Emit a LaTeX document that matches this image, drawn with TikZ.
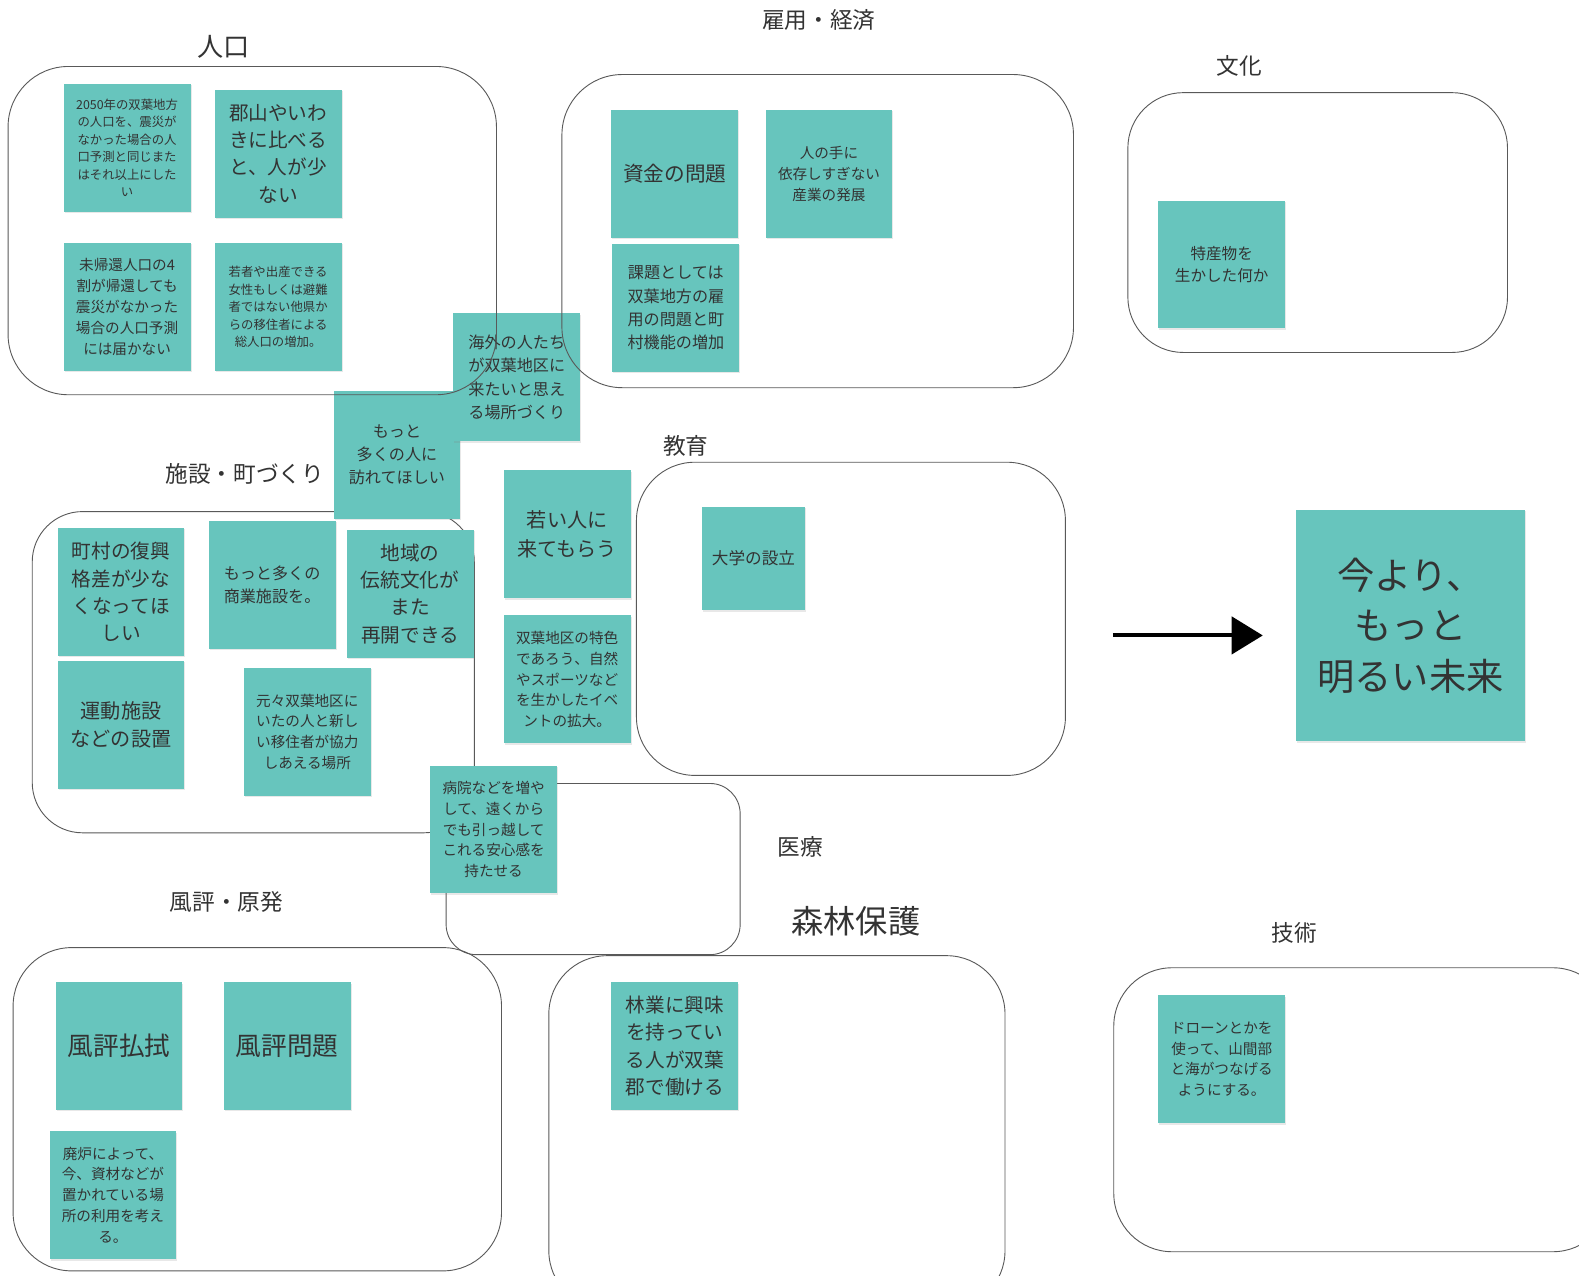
\documentclass[tikz,border=0pt]{standalone}
\usepackage{fontspec}
\setmainfont{Noto Sans CJK JP}
\usetikzlibrary{arrows.meta,shadows}
\definecolor{stickyteal}{HTML}{67C5BD}
\definecolor{inkgray}{HTML}{333333}

\begin{document}
\begin{tikzpicture}[
  x=1pt, y=-1pt,
  board/.style={draw=black!65, line width=0.9pt, rounded corners=58pt},
  sticky/.style={fill=stickyteal, anchor=north west, minimum width=126pt, minimum height=127pt, inner sep=2pt, align=center, text=inkgray, drop shadow={shadow xshift=1pt, shadow yshift=-1.5pt, opacity=0.18}},
  heading/.style={text=inkgray, font=\fontsize{22.5}{26}\selectfont},
  tiny/.style={font=\fontsize{12.3}{17.4}\selectfont},
  small/.style={font=\fontsize{14.5}{20.7}\selectfont},
  medium/.style={font=\fontsize{16}{23}\selectfont},
  large/.style={font=\fontsize{19.5}{27}\selectfont},
  xlarge/.style={font=\fontsize{25.5}{30}\selectfont},
  huge/.style={font=\fontsize{37}{50}\selectfont},
  pointer/.style={line width=4pt, -{Triangle[length=31pt, width=37pt]}, shorten >=33pt},
]
\clip (0,0) rectangle (1568,1267);
\fill[white] (0,0) rectangle (1568,1267);

% Boards that sit behind the notes
\draw[board, rounded corners=50pt] (32,508) rectangle (471,827);
\draw[board, rounded corners=30pt] (443,778) rectangle (735,948);
\draw[board] (632,459) rectangle (1058,770);
\draw[board, rounded corners=55pt] (1120,92) rectangle (1497,350);
\draw[board] (13,941) rectangle (498,1262);
\draw[board] (545,949) rectangle (998,1300);
\draw[board] (1106,961) rectangle (1600,1243);

% Headings
\node[heading, font=\fontsize{26}{30}\selectfont] (popT) at (222,47) {人口};
\node[heading] (jobT) at (813,20) {雇用・経済};
\node[heading] (cultT) at (1231,65) {文化};
\node[heading] (townT) at (243,471) {施設・町づくり};
\node[heading] (eduT) at (681,443) {教育};
\node[heading] (medT) at (795,841) {医療};
\node[heading] (rumT) at (225,896) {風評・原発};
\node[heading, font=\fontsize{32}{36}\selectfont] (forestT) at (850,915) {森林保護};
\node[heading] (techT) at (1285,926) {技術};

% Population
\node[sticky, tiny] (pop2050) at (63,83) {2050年の双葉地方\\の人口を、震災が\\なかった場合の人\\口予測と同じまた\\はそれ以上にした\\い};
\node[sticky, large] (koriyama) at (213,89) {郡山やいわ\\きに比べる\\と、人が少\\ない};
\node[sticky, small] (unreturned) at (63,241) {未帰還人口の4\\割が帰還しても\\震災がなかった\\場合の人口予測\\には届かない};
\node[sticky, tiny] (migrants) at (213,241) {若者や出産できる\\女性もしくは避難\\者ではない他県か\\らの移住者による\\総人口の増加。};

% Between the boards
\node[sticky, medium] (visitors) at (331,388) {もっと\\多くの人に\\訪れてほしい};
\node[sticky, medium] (overseas) at (450,311) {海外の人たち\\が双葉地区に\\来たいと思え\\る場所づくり};
\node[sticky, large, font=\fontsize{20}{28}\selectfont] (youth) at (500,467) {若い人に\\来てもらう};
\node[sticky, small] (events) at (500,611) {双葉地区の特色\\であろう、自然\\やスポーツなど\\を生かしたイベ\\ントの拡大。};

% Jobs and economy
\node[sticky, large, font=\fontsize{20.5}{27}\selectfont] (funds) at (607,109) {資金の問題};
\node[sticky, small] (industry) at (760,109) {人の手に\\依存しすぎない\\産業の発展};
\node[sticky, medium] (issues) at (608,242) {課題としては\\双葉地方の雇\\用の問題と町\\村機能の増加};

% Culture
\node[sticky, small, font=\fontsize{15.5}{22}\selectfont] (specialty) at (1150,199) {特産物を\\生かした何か};

% Facilities and town
\node[sticky, large] (gap) at (57,524) {町村の復興\\格差が少な\\くなってほ\\しい};
\node[sticky, medium] (shops) at (207,517) {もっと多くの\\商業施設を。};
\node[sticky, large] (tradition) at (344,526) {地域の\\伝統文化が\\また\\再開できる};
\node[sticky, large, font=\fontsize{20}{28}\selectfont] (sports) at (57,656) {運動施設\\などの設置};
\node[sticky, small] (together) at (242,663) {元々双葉地区に\\いたの人と新し\\い移住者が協力\\しあえる場所};

% Education
\node[sticky, medium, font=\fontsize{16.5}{23}\selectfont, minimum width=102pt, minimum height=103pt] (college) at (697,503) {大学の設立};

% Medical
\node[sticky, small] (hospital) at (427,760) {病院などを増や\\して、遠くから\\でも引っ越して\\これる安心感を\\持たせる};

% Rumours and nuclear plant
\node[sticky, xlarge] (dispel) at (55,975) {風評払拭};
\node[sticky, xlarge] (rumour) at (222,975) {風評問題};
\node[sticky, small] (decommission) at (49,1123) {廃炉によって、\\今、資材などが\\置かれている場\\所の利用を考え\\る。};

% Forest protection
\node[sticky, large] (forestry) at (607,975) {林業に興味\\を持ってい\\る人が双葉\\郡で働ける};

% Technology
\node[sticky, small] (drone) at (1150,988) {ドローンとかを\\使って、山間部\\と海がつなげる\\ようにする。};

% Goal
\node[sticky, huge, minimum width=227pt, minimum height=230pt] (goal) at (1287,506) {今より、\\もっと\\明るい未来};
\coordinate (arrowtail) at (1105,631);
\draw[pointer] (arrowtail) -- (arrowtail -| goal.west);

% Boards drawn over the notes
\draw[board, rounded corners=60pt] (8,66) rectangle (493,392);
\draw[board, rounded corners=60pt] (558,74) rectangle (1066,385);

\end{tikzpicture}
\end{document}
